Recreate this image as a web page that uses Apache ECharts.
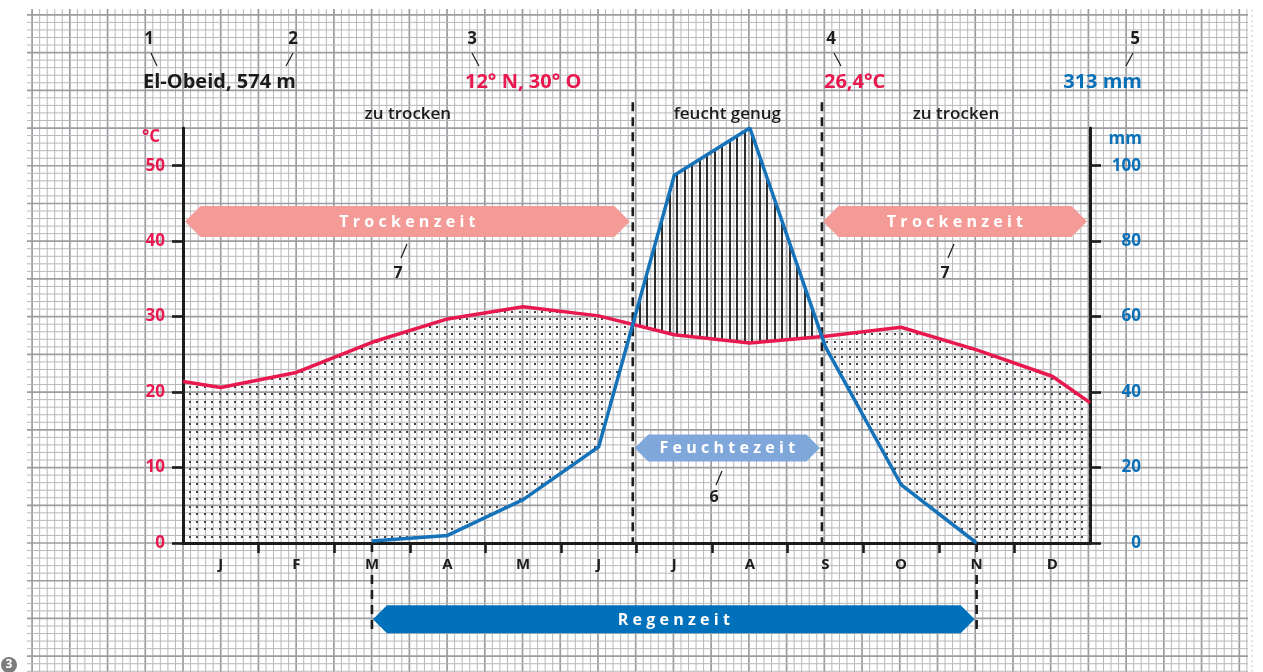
<!DOCTYPE html>
<html>
<head>
<meta charset="utf-8">
<script src="https://cdn.jsdelivr.net/npm/echarts@6/dist/echarts.min.js"></script>
<style>
  html, body { margin: 0; padding: 0; background: #fff; }
  #chart { width: 1263px; height: 672px; }
</style>
</head>
<body>
<div id="chart"></div>
<script>
const monthLabels = ['J', 'F', 'M', 'A', 'M', 'J', 'J', 'A', 'S', 'O', 'N', 'D']
// temperature in °C: left edge, the twelve month centres, right edge
const tempX = [0, 0.5, 1.5, 2.5, 3.5, 4.5, 5.5, 6.5, 7.5, 8.5, 9.5, 10.5, 11.5, 12]
const tempValues = [21.4, 20.6, 22.6, 26.6, 29.7, 31.3, 30.1, 27.6, 26.5, 27.4, 28.6, 25.6, 22.1, 18.6]
// precipitation in mm, March to November
const precipX = [2.5, 3.5, 4.5, 5.5, 6.5, 7.5, 8.5, 9.5, 10.5]
const precipValues = [0.5, 2, 11.5, 25.5, 97.5, 110, 52, 15.5, 0]
const tempTicks = [0, 10, 20, 30, 40, 50]
const precipTicks = [0, 20, 40, 60, 80, 100]
const monthBounds = [1, 2, 3, 4, 5, 6, 7, 8, 9, 10, 11]
const monthCentres = [0.5, 1.5, 2.5, 3.5, 4.5, 5.5, 6.5, 7.5, 8.5, 9.5, 10.5, 11.5]

const RED = '#e8194f'
const BLUE = '#0a71b8'
const INK = '#1c1c1c'
const FONT = '"Open Sans", "Noto Sans", sans-serif'

// precipitation drawn at 2 mm per °C, 0 where no rain
const T = tempValues
const P = tempX.map(x => {
  const j = precipX.indexOf(x)
  return j >= 0 ? precipValues[j] / 2 : 0
})

// areas where one curve lies above the other, split at the crossings
function regions(sign) {
  const polys = []
  let a = []
  let b = []
  const close = () => {
    if (a.length > 1)
      polys.push(a.concat(b.reverse()))
    a = []
    b = []
  }
  for (let i = 0; i < tempX.length; i++) {
    const d = sign * (T[i] - P[i])
    if (i > 0) {
      const dp = sign * (T[i - 1] - P[i - 1])
      if ((dp > 0) !== (d > 0)) {
        const t = dp / (dp - d)
        const x = tempX[i - 1] + t * (tempX[i] - tempX[i - 1])
        const y = T[i - 1] + t * (T[i] - T[i - 1])
        a.push([x, y])
        b.push([x, y])
        if (dp > 0)
          close()
      }
    }
    if (d > 0) {
      a.push([tempX[i], T[i]])
      b.push([tempX[i], P[i]])
    }
  }
  close()
  return polys
}

const crossings = []
for (let i = 1; i < tempX.length; i++) {
  const d0 = T[i - 1] - P[i - 1]
  const d1 = T[i] - P[i]
  if ((d0 > 0) !== (d1 > 0)) {
    const t = d0 / (d0 - d1)
    crossings.push(tempX[i - 1] + t * (tempX[i] - tempX[i - 1]))
  }
}

function makePattern(draw) {
  const c = document.createElement('canvas')
  c.width = 30
  c.height = 30
  draw(c.getContext('2d'))
  return { image: c, repeat: 'repeat' }
}
const dotPattern = makePattern((ctx) => {
  ctx.fillStyle = '#444'
  for (let i = 0; i < 4; i++) {
    for (let j = 0; j < 4; j++)
      ctx.fillRect(Math.round(i * 7.5) + 1, Math.round(j * 7.5) + 3, 2, 2)
  }
})
const hatchPattern = makePattern((ctx) => {
  ctx.fillStyle = '#2e2e2e'
  for (let i = 0; i < 4; i++)
    ctx.fillRect(Math.round(i * 7.5) + 1, 0, 2, 30)
})

const fills = regions(1).map(p => ({ poly: p, fill: dotPattern }))
  .concat(regions(-1).map(p => ({ poly: p, fill: hatchPattern })))

// spread letters like the printed banners
const spaced = s => s.split('').join('\u2009\u200A')

// annotations placed on the chart's scales
const c0 = crossings[0]
const c1 = crossings[1]
const banners = [
  { from: 0, to: c0, y: 42.6, h: 31, inset: [2, 3], text: spaced('Trockenzeit'), color: '#f59b97' },
  { from: c1, to: 12, y: 42.6, h: 31, inset: [1, 3], text: spaced('Trockenzeit'), color: '#f59b97' },
  { from: c0, to: c1, y: 12.6, h: 27, inset: [2, 2], text: spaced('Feuchtezeit'), color: '#80a7da' },
  { from: 2.5, to: 10.5, y: -10.1, h: 28, inset: [1, 2], text: spaced('Regenzeit'), color: '#0071ba' },
]
const zones = [
  { from: 0, to: c0, text: 'zu trocken' },
  { from: c0, to: c1, text: 'feucht genug' },
  { from: c1, to: 12, text: 'zu trocken' },
]
const marks = []
banners.forEach(b => marks.push({ kind: 'banner', b }))
zones.forEach(z => marks.push({ kind: 'zone', z }))
crossings.forEach(x => marks.push({ kind: 'divider', x }))
marks.push({ kind: 'rain', x: 2.5 })
marks.push({ kind: 'rain', x: 10.5 })

function textStyle(text, font, fill, align, vAlign) {
  return { text, font, fill, align, verticalAlign: vAlign, textAlign: align, textVerticalAlign: vAlign }
}

function renderMark(params, api) {
  const m = marks[params.dataIndex]
  const dash = { stroke: INK, lineWidth: 2.6, lineDash: [9, 6] }
  if (m.kind === 'banner') {
    const b = m.b
    const p0 = api.coord([b.from, b.y])
    const p1 = api.coord([b.to, b.y])
    const x0 = p0[0] + b.inset[0]
    const x1 = p1[0] - b.inset[1]
    const yc = p0[1]
    const hh = b.h / 2
    return {
      type: 'group',
      children: [
        {
          type: 'polygon',
          shape: { points: [[x0, yc], [x0 + hh, yc - hh], [x1 - hh, yc - hh], [x1, yc], [x1 - hh, yc + hh], [x0 + hh, yc + hh]] },
          style: { fill: b.color },
        },
        {
          type: 'text',
          x: (x0 + x1) / 2,
          y: yc + 1,
          style: textStyle(b.text, `bold 16px ${FONT}`, '#fff', 'center', 'middle'),
        },
      ],
    }
  }
  if (m.kind === 'zone') {
    const p0 = api.coord([m.z.from, 56.9])
    const p1 = api.coord([m.z.to, 56.9])
    return {
      type: 'text',
      x: (p0[0] + p1[0]) / 2,
      y: p0[1],
      style: textStyle(m.z.text, `600 17px ${FONT}`, INK, 'center', 'middle'),
    }
  }
  if (m.kind === 'divider') {
    const top = api.coord([m.x, 58.4])
    const bottom = api.coord([m.x, 0])
    return { type: 'line', shape: { x1: top[0], y1: top[1], x2: bottom[0], y2: bottom[1] }, style: dash }
  }
  // dashed drop from the rain season ends down to the Regenzeit arrow
  const base = api.coord([m.x, 0])
  const end = api.coord([m.x, -10.1])
  return {
    type: 'group',
    children: [
      { type: 'line', shape: { x1: base[0], y1: base[1], x2: base[0], y2: base[1] + 10 }, style: dash },
      { type: 'line', shape: { x1: base[0], y1: base[1] + 32, x2: base[0], y2: end[1] + 14 }, style: dash },
    ],
  }
}

// graph paper, aligned on the axes
const paper = []
const step = 7.545
const minorLine = { stroke: '#b8b8bc', lineWidth: 1 }
const majorLine = { stroke: '#9c9ca1', lineWidth: 1.7 }
for (let k = -20; 183 + k * step <= 1249; k++) {
  const x = 183 + k * step
  paper.push({ type: 'line', silent: true, z: -10, shape: { x1: x, y1: 9, x2: x, y2: 672 }, style: k % 5 === 0 ? majorLine : minorLine })
}
for (let k = -17; 543 - k * step >= 12; k++) {
  const y = 543 - k * step
  paper.push({ type: 'line', silent: true, z: -10, shape: { x1: 27, y1: y, x2: 1248, y2: y }, style: k % 5 === 0 ? majorLine : minorLine })
}
paper.push({ type: 'line', silent: true, z: -10, shape: { x1: 1252, y1: 10, x2: 1252, y2: 672 }, style: { stroke: '#c6c6c6', lineWidth: 1, lineDash: [2, 3] } })

function label(x, y, text, size, fill, align, weight) {
  return { type: 'text', x, y, z: 5, style: textStyle(text, `${weight || 'bold'} ${size}px ${FONT}`, fill, align || 'left', 'middle') }
}
function leader(x1, y1, x2, y2) {
  return { type: 'line', z: 5, shape: { x1, y1, x2, y2 }, style: { stroke: INK, lineWidth: 1.2 } }
}

const texts = [
  label(149, 39, '1', 17, INK, 'center'),
  leader(151, 53, 157, 66),
  label(143, 82, 'El-Obeid, 574 m', 20, INK),
  label(293, 39, '2', 17, INK, 'center'),
  leader(293, 53, 286, 66),
  label(472, 39, '3', 17, INK, 'center'),
  leader(472, 53, 479, 66),
  label(465, 82, '12° N, 30° O', 20, RED),
  label(831, 39, '4', 17, INK, 'center'),
  leader(834, 53, 841, 66),
  label(824, 82, '26,4°C', 20, RED),
  label(1135, 39, '5', 17, INK, 'center'),
  leader(1133, 53, 1126, 66),
  label(1142, 82, '313 mm', 20, BLUE, 'right'),
  label(142, 137, '°C', 17, RED),
  label(1142, 139, 'mm', 17, BLUE, 'right'),
  leader(407, 244, 401, 258),
  label(398, 273, '7', 16, INK, 'center'),
  leader(954, 244, 948, 258),
  label(945, 273, '7', 16, INK, 'center'),
  leader(722, 471, 716, 485),
  label(714, 497, '6', 16, INK, 'center'),
  { type: 'circle', z: 5, shape: { cx: 9, cy: 665, r: 8 }, style: { fill: '#7d7d7d' } },
  label(9, 665, '3', 12, '#fff', 'center'),
]

const chart = echarts.init(document.getElementById('chart'))
chart.setOption({
  animation: false,
  backgroundColor: '#fff',
  graphic: { elements: paper.concat(texts) },
  grid: { left: 183, right: 173, top: 128, bottom: 129 },
  xAxis: {
    type: 'value',
    min: 0,
    max: 12,
    axisLine: { lineStyle: { color: INK, width: 3 } },
    axisTick: { customValues: monthBounds, length: 10, lineStyle: { color: INK, width: 2.6 } },
    axisLabel: {
      customValues: monthCentres,
      formatter: v => monthLabels[Math.floor(v)],
      margin: 14,
      color: INK,
      fontWeight: 'bold',
      fontSize: 15,
      fontFamily: FONT,
    },
    splitLine: { show: false },
  },
  yAxis: [
    {
      type: 'value',
      min: 0,
      max: 55,
      axisLine: { show: true, lineStyle: { color: INK, width: 3 } },
      axisTick: { show: true, customValues: tempTicks, length: 11, lineStyle: { color: INK, width: 2.6 } },
      axisLabel: { customValues: tempTicks, margin: 18, color: RED, fontWeight: 'bold', fontSize: 17, fontFamily: FONT },
      splitLine: { show: false },
    },
    {
      type: 'value',
      position: 'right',
      min: 0,
      max: 110,
      axisLine: { show: true, lineStyle: { color: INK, width: 3 } },
      axisTick: { show: true, customValues: precipTicks, length: 11, lineStyle: { color: INK, width: 2.6 } },
      axisLabel: { customValues: precipTicks, margin: 51, align: 'right', color: BLUE, fontWeight: 'bold', fontSize: 17, fontFamily: FONT },
      splitLine: { show: false },
    },
  ],
  series: [
    {
      type: 'custom',
      silent: true,
      z: 1,
      renderItem: (params, api) => {
        const f = fills[params.dataIndex]
        return { type: 'polygon', shape: { points: f.poly.map(pt => api.coord(pt)) }, style: { fill: f.fill } }
      },
      data: fills.map(f => f.poly[0]),
    },
    {
      type: 'custom',
      silent: true,
      clip: false,
      z: 3,
      renderItem: renderMark,
      data: marks.map(() => [0, 0]),
    },
    {
      name: 'Temperatur',
      type: 'line',
      z: 6,
      symbol: 'none',
      data: tempX.map((x, i) => [x, tempValues[i]]),
      lineStyle: { color: RED, width: 3.5 },
    },
    {
      name: 'Niederschlag',
      type: 'line',
      z: 6,
      yAxisIndex: 1,
      symbol: 'none',
      data: precipX.map((x, i) => [x, precipValues[i]]),
      lineStyle: { color: '#1673b9', width: 3.5 },
    },
  ],
})
</script>
</body>
</html>
